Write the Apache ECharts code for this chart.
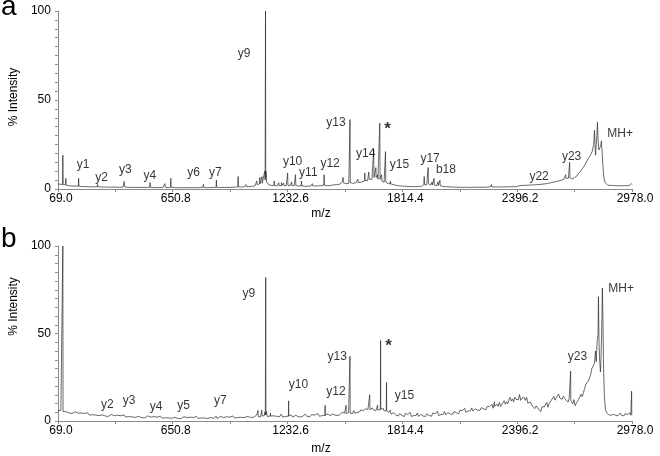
<!DOCTYPE html>
<html>
<head>
<meta charset="utf-8">
<script src="https://cdn.jsdelivr.net/npm/echarts@6/dist/echarts.min.js"></script>
<style>
  html, body { margin: 0; padding: 0; background: #fff; }
  #main { width: 660px; height: 456px; }
</style>
</head>
<body>
<div id="main"></div>
<script>
// tick labels and tick marks of the m/z axis
var xTicks = [69.0, 650.8, 1232.6, 1814.4, 2396.2, 2978.0];
var xTickMarks = [69.0, 359.9, 650.8, 941.7, 1232.6, 1523.5, 1814.4, 2105.3, 2396.2, 2687.1, 2978.0];

// panel a spectrum [m/z, % intensity]
var spectrumA = [
  [69, 2.8], [75, 2.3], [81, 2.7], [87, 2.2], [92.5, 2.5], [94, 19], [95.5, 2.4], [100, 2.6], [105, 2.1],
  [107.5, 2.4], [109, 6], [110.5, 2.2], [116, 2.3], [124, 1.8], [132, 2.2], [140, 1.7], [148, 2.1],
  [156, 1.6], [164, 2.0], [172.5, 1.6], [174, 6], [175.5, 1.6], [182, 1.9], [190, 1.4], [198, 1.8],
  [206, 1.3], [214, 1.8], [222, 1.3], [230, 1.7], [238, 1.2], [246, 1.7], [254, 1.2], [262, 1.6],
  [268.5, 1.3], [270, 2.5], [271.5, 1.3], [278, 1.6], [286, 1.1], [294, 1.6], [302, 1.1], [310, 1.7],
  [318, 1.1], [326, 1.5], [334, 1.0], [342, 1.6], [350, 1.1], [358, 1.5], [366, 1.0], [374, 1.4],
  [382, 1.0], [390, 1.5], [398, 1.0], [403.5, 1.3], [405, 4.2], [406.5, 1.2], [412, 1.5], [420, 1.0],
  [428, 1.4], [436, 0.9], [444, 1.4], [452, 0.9], [460, 1.5], [468, 0.9], [476, 1.3], [484, 0.9],
  [492, 1.4], [500, 0.9], [508, 1.3], [516, 0.8], [524, 1.3], [534.5, 1.0], [536, 3.6], [537.5, 1.0],
  [544, 1.3], [552, 0.8], [560, 1.3], [568, 0.8], [576, 1.2], [584, 0.8], [592, 1.3], [600, 0.8],
  [609.5, 1.0], [611, 3], [612.5, 1.0], [620, 1.2], [628, 0.8], [639.5, 1.0], [641, 6], [642.5, 1.0],
  [650, 1.2], [658, 0.8], [666, 1.2], [674, 0.7], [682, 1.2], [690, 0.8], [698, 1.1], [706, 0.7],
  [714, 1.2], [722, 0.8], [730, 1.1], [738, 0.7], [746, 1.2], [754, 0.8], [762, 1.1], [770, 0.7],
  [778, 1.2], [786, 0.8], [794, 1.1], [804.5, 1.0], [806, 2.6], [807.5, 1.0], [814, 1.1], [822, 0.7],
  [830, 1.2], [838, 0.8], [846, 1.1], [854, 0.8], [862, 1.2], [870.5, 1.0], [872, 5], [873.5, 1.0],
  [880, 1.2], [888, 0.8], [896, 1.3], [904, 0.9], [912, 1.2], [920, 0.9], [928, 1.4], [936, 0.9],
  [944, 1.3], [952, 1.0], [960, 1.4], [968, 1.0], [975, 1.4], [980.5, 1.2], [982, 7], [983.5, 1.2],
  [990, 1.5], [998, 1.1], [1006, 1.6], [1014, 1.2], [1020.5, 1.4], [1022, 2.5], [1023.5, 1.3],
  [1030, 1.7], [1038, 1.3], [1046, 1.9], [1054, 1.5], [1062, 2.2], [1068, 1.8], [1075.5, 2.2],
  [1077, 4.5], [1078.5, 2.3], [1084, 2.8], [1090.5, 3], [1092, 6.5], [1093.5, 3], [1098, 3.8],
  [1101.5, 3.5], [1103, 7], [1104.5, 3.2], [1110, 4], [1114, 3.5], [1117, 10], [1119, 5], [1120, 4],
  [1121, 100], [1122, 6], [1123, 10], [1126, 4], [1132, 3.2], [1138, 2.4], [1145, 2.8], [1152, 2.0],
  [1158, 2.4], [1163.5, 2.0], [1165, 4.5], [1166.5, 2.0], [1172, 2.4], [1180, 1.7], [1186.5, 2.0],
  [1188, 3.5], [1189.5, 1.9], [1196, 2.3], [1201.5, 2.0], [1203, 3.6], [1204.5, 2.0], [1211.5, 2.0],
  [1213, 3.2], [1214.5, 2.0], [1220, 2.4], [1226, 1.8], [1231.5, 2.2], [1233, 9], [1234.5, 2.2],
  [1240, 2.4], [1246, 1.8], [1251.5, 2.0], [1253, 4], [1254.5, 2.0], [1260, 2.3], [1266, 1.8],
  [1271.5, 2.2], [1273, 8], [1274.5, 2.0], [1280, 2.2], [1288, 1.6], [1294, 2.0], [1301.5, 1.8],
  [1303, 4.5], [1304.5, 1.8], [1312, 2.1], [1320, 1.5], [1328, 2.1], [1336, 1.6], [1344, 2.2],
  [1350, 1.7], [1356.5, 1.8], [1358, 3], [1359.5, 1.8], [1366, 2.2], [1374, 1.6], [1382, 2.3],
  [1390, 1.8], [1398, 2.4], [1406, 1.9], [1412, 2.5], [1416.5, 2.2], [1418, 8], [1419.5, 2.2],
  [1426, 2.4], [1434, 1.8], [1442, 2.5], [1450, 2.0], [1458, 2.8], [1466, 2.3], [1474, 3.0],
  [1482, 2.5], [1490, 3.2], [1498, 2.7], [1505, 3.2], [1510, 4], [1512.5, 3.5], [1514, 6.5],
  [1515.5, 3.5], [1522, 3.8], [1530, 3.0], [1538, 3.8], [1543, 3.2], [1547.5, 3.4], [1549, 39],
  [1550.5, 3.6], [1556, 4], [1562, 3.2], [1570, 4.2], [1578, 3.4], [1587.5, 3.8], [1589, 5.5],
  [1590.5, 3.6], [1598, 4.4], [1606, 3.8], [1614, 4.8], [1622.5, 4.5], [1624, 9], [1625.5, 4.8],
  [1632, 5.5], [1638, 4.6], [1642.5, 5], [1644, 9.5], [1645.5, 5.5], [1652, 6.2], [1660, 5.4],
  [1667.5, 6], [1669, 22], [1670.5, 6.5], [1675, 6.2], [1678.5, 7], [1680, 12], [1681.5, 6.5],
  [1685, 5.8], [1687.5, 6], [1689, 8], [1690.5, 5.5], [1695, 5.8], [1698.5, 5.5], [1700, 37],
  [1701.5, 5.5], [1705, 5], [1707.5, 5.2], [1709, 8], [1710.5, 4.5], [1716, 4.6], [1722, 3.8],
  [1727.5, 4], [1729, 21], [1730.5, 4], [1736, 3.8], [1742, 3.0], [1748, 3.6], [1752.5, 3.0],
  [1754, 4.5], [1755.5, 2.8], [1762, 3.0], [1766.5, 2.6], [1768, 3.3], [1769.5, 2.5], [1776, 2.7],
  [1784, 2.0], [1792, 2.4], [1800, 1.8], [1808, 2.2], [1816, 1.6], [1824, 2.1], [1832, 1.5],
  [1840, 2.0], [1848, 1.4], [1856, 1.9], [1864, 1.4], [1872, 1.8], [1880, 1.3], [1888, 1.9],
  [1896, 1.4], [1904, 1.8], [1912, 1.5], [1918, 2.0], [1923.5, 2.5], [1925, 7], [1926.5, 2.5],
  [1932, 2.8], [1938, 2.3], [1943.5, 3], [1945, 12], [1946.5, 3], [1952, 2.6], [1958, 2.2],
  [1963.5, 2.5], [1965, 4], [1966.5, 2.3], [1970, 2.5], [1973.5, 2.4], [1975, 6], [1976.5, 2.2],
  [1982, 2.4], [1988, 1.8], [1993.5, 2.0], [1995, 4], [1996.5, 2.0], [2000, 2.2], [2003.5, 1.9],
  [2005, 5], [2006.5, 1.8], [2014, 1.9], [2022, 1.4], [2030, 1.8], [2038, 1.3], [2046, 1.7],
  [2054, 1.2], [2062, 1.6], [2070, 1.1], [2078, 1.5], [2086, 1.0], [2094, 1.5], [2102, 1.0],
  [2110, 1.4], [2118, 0.9], [2126, 1.4], [2134, 1.0], [2142, 1.5], [2150, 0.9], [2158, 1.4],
  [2166, 0.9], [2174, 1.5], [2182, 1.0], [2190, 1.4], [2198, 1.0], [2206, 1.5], [2214, 1.0],
  [2222, 1.6], [2230, 1.0], [2238, 1.5], [2246, 1.1], [2254, 1.6], [2260, 1.2], [2264.5, 1.3],
  [2266, 2.5], [2267.5, 1.3], [2274, 1.6], [2282, 1.1], [2290, 1.7], [2298, 1.2], [2306, 1.6],
  [2314, 1.1], [2322, 1.8], [2330, 1.2], [2338, 1.7], [2346, 1.2], [2354, 1.8], [2362, 1.3],
  [2370, 1.9], [2378, 1.3], [2386, 1.8], [2394, 1.4], [2399.5, 1.5], [2401, 2.5], [2402.5, 1.5],
  [2410, 1.9], [2418, 1.4], [2426, 2.0], [2434, 1.5], [2442, 2.1], [2450, 1.6], [2458, 2.2],
  [2466, 1.7], [2474, 2.3], [2482, 1.8], [2490, 2.4], [2498, 1.9], [2506, 2.5], [2514, 2.0],
  [2522, 2.7], [2530, 2.2], [2538, 2.9], [2546, 2.5], [2554, 3.2], [2562, 2.8], [2570, 3.6],
  [2578, 3.2], [2586, 4.0], [2594, 3.6], [2602, 4.4], [2610, 4.0], [2618, 4.9], [2626, 4.5],
  [2632, 5.4], [2637, 5], [2640.5, 6], [2642, 8], [2643.5, 6], [2648, 5.5], [2652, 6.5], [2656, 6],
  [2660.5, 6.5], [2662, 15], [2663.5, 6.5], [2668, 6.2], [2674, 5.6], [2680, 6.6], [2686, 6.4],
  [2692, 7.4], [2698, 7.2], [2704, 8.4], [2710, 8.6], [2716, 9.8], [2722, 10.4], [2728, 11.6],
  [2734, 12.6], [2740, 13.6], [2746, 15], [2752, 16.2], [2758, 17.2], [2764, 18.4], [2770, 19.6],
  [2776, 21], [2780, 22], [2784, 25], [2788, 33], [2791, 24], [2793, 19], [2797, 25], [2800, 30],
  [2803, 37.5], [2806, 28], [2810, 22], [2815, 21], [2819, 24], [2823, 27], [2827, 20], [2830, 14],
  [2834, 8], [2838, 5], [2843, 3.5], [2850, 2.4], [2856, 2.0], [2862, 1.7], [2868, 2.1], [2874, 1.6],
  [2880, 2.0], [2886, 1.5], [2892, 1.9], [2898, 1.5], [2904, 1.8], [2910, 1.4], [2916, 1.9],
  [2922, 1.5], [2928, 1.8], [2934, 1.4], [2940, 1.9], [2946, 1.5], [2952, 1.8], [2958, 1.5],
  [2964, 2.0], [2968, 2.4], [2972, 2.2], [2975, 3], [2978, 2.6]
];

// panel b spectrum [m/z, % intensity]
var spectrumB = [
  [69, 5.9], [76, 5.4], [84, 6.1], [90, 5.0], [93, 5.4], [94, 100], [95, 5.4], [100, 5.2], [108, 5.4],
  [116, 5.7], [124, 4.7], [132, 5.0], [140, 4.3], [148, 5.0], [156, 5.3], [164, 4.3], [172, 4.5],
  [180, 3.7], [188, 4.6], [196, 4.1], [204, 4.3], [212, 3.7], [220, 4.7], [228, 3.4], [236, 3.8],
  [244, 3.6], [252, 4.0], [260, 3.4], [268, 4.1], [276, 3.0], [284, 3.3], [292, 3.5], [300, 3.9],
  [308, 2.9], [316, 3.3], [324, 2.6], [332, 3.4], [340, 3.7], [348, 2.8], [356, 3.0], [364, 2.3],
  [372, 3.3], [380, 2.7], [388, 3.0], [396, 2.5], [404, 3.5], [412, 2.3], [420, 2.7], [428, 2.5],
  [436, 2.9], [444, 2.4], [452, 3.1], [460, 2.0], [468, 2.3], [476, 2.6], [484, 2.9], [492, 2.0],
  [500, 2.4], [508, 1.7], [516, 2.5], [524, 2.9], [532, 2.0], [540, 2.2], [548, 1.5], [556, 2.5],
  [564, 2.0], [572, 2.2], [580, 1.7], [588, 2.8], [596, 1.6], [604, 2.1], [612, 1.8], [620, 2.3],
  [628, 1.8], [636, 2.5], [644, 1.5], [652, 1.8], [660, 2.1], [668, 2.4], [676, 1.5], [684, 1.9],
  [692, 1.3], [700, 2.1], [708, 2.5], [716, 1.6], [724, 1.9], [732, 1.2], [740, 2.2], [748, 1.7],
  [756, 2.0], [764, 1.5], [772, 2.6], [780, 1.4], [788, 1.9], [796, 1.7], [804, 2.2], [812, 1.7],
  [820, 2.4], [828, 1.4], [836, 1.7], [844, 2.0], [852, 2.4], [860, 1.5], [868, 2.0], [870, 2.8],
  [876, 1.4], [884, 2.2], [892, 2.6], [900, 1.7], [908, 2.0], [916, 1.4], [924, 2.4], [932, 1.9],
  [940, 2.2], [948, 1.7], [956, 2.9], [964, 1.7], [972, 2.2], [980, 2.0], [988, 2.6], [996, 2.1],
  [1004, 2.8], [1012, 1.9], [1020, 2.2], [1028, 2.6], [1036, 3.0], [1044, 2.1], [1052, 2.6],
  [1060, 2.1], [1068, 2.9], [1076, 3.4], [1082, 2.6], [1083, 6], [1084, 2.6], [1090, 3.0],
  [1096, 2.3], [1101, 3.0], [1102, 6.2], [1103, 3.0], [1108, 3.8], [1114, 2.9], [1118, 5],
  [1120, 3.5], [1121, 3.6], [1122, 82], [1123, 3.6], [1125, 5.5], [1130, 2.6], [1138, 3.6],
  [1145, 2.8], [1146, 4.5], [1147, 2.8], [1152, 2.3], [1160, 3.0], [1168, 3.6], [1176, 2.7],
  [1184, 3.1], [1192, 2.4], [1200, 3.9], [1208, 2.3], [1216, 2.9], [1224, 2.6], [1232, 3.3],
  [1237, 2.8], [1238, 11.5], [1239, 2.8], [1244, 2.6], [1250, 3.6], [1258, 2.3], [1266, 2.8],
  [1274, 3.2], [1282, 3.6], [1290, 2.4], [1298, 3.0], [1306, 2.4], [1314, 3.4], [1322, 3.9],
  [1330, 2.7], [1338, 3.2], [1346, 2.4], [1354, 3.6], [1362, 3.0], [1370, 3.4], [1378, 2.8],
  [1386, 4.3], [1394, 2.7], [1402, 3.4], [1410, 3.1], [1422, 3.2], [1423, 9], [1424, 3.2],
  [1430, 3.2], [1438, 4.2], [1446, 3.0], [1454, 3.4], [1462, 3.9], [1470, 4.3], [1478, 3.2],
  [1486, 3.9], [1494, 3.3], [1502, 4.4], [1510, 5.0], [1516, 3.9], [1522, 4.5], [1528, 4.2],
  [1529, 9], [1530, 4.2], [1536, 3.7], [1542, 4.9], [1548, 4.3], [1549, 37], [1550, 4.4],
  [1556, 4.8], [1562, 4.2], [1568, 5.9], [1574, 4.4], [1580, 5.1], [1586, 4.9], [1592, 5.8],
  [1598, 5.2], [1604, 6.4], [1610, 5.3], [1616, 5.9], [1622, 6.5], [1628, 7.0], [1634, 5.9],
  [1640, 6.6], [1648, 6.3], [1649, 15], [1650, 6.4], [1656, 7.0], [1662, 7.5], [1668, 6.3],
  [1674, 6.8], [1680, 5.9], [1688, 6.2], [1689, 9], [1690, 6.3], [1696, 7.1], [1703, 6.5],
  [1704, 46], [1705, 6.6], [1710, 6.1], [1716, 7.4], [1722, 5.7], [1728, 6.1], [1733, 6.0],
  [1734, 22], [1735, 5.8], [1740, 6.3], [1746, 5.0], [1752, 6.2], [1758, 3.9], [1764, 4.4],
  [1770, 4.7], [1776, 5.1], [1782, 3.3], [1788, 4.0], [1794, 2.9], [1800, 4.2], [1806, 4.9],
  [1812, 3.2], [1818, 3.8], [1824, 2.5], [1830, 4.3], [1836, 3.3], [1842, 3.8], [1848, 2.9],
  [1854, 5.0], [1860, 2.6], [1866, 3.5], [1872, 3.1], [1878, 4.1], [1884, 3.1], [1890, 4.6],
  [1896, 2.6], [1902, 3.3], [1908, 3.8], [1914, 4.5], [1920, 2.8], [1926, 3.6], [1932, 2.6],
  [1938, 4.1], [1944, 4.9], [1950, 3.2], [1956, 3.9], [1962, 2.7], [1968, 4.5], [1974, 3.6],
  [1980, 4.2], [1986, 3.3], [1992, 5.5], [1998, 3.1], [2004, 4.1], [2010, 3.7], [2016, 4.8],
  [2022, 3.8], [2028, 5.4], [2034, 3.5], [2040, 4.2], [2046, 4.8], [2052, 5.5], [2058, 3.9],
  [2064, 4.8], [2070, 3.9], [2076, 5.4], [2082, 6.2], [2088, 4.6], [2094, 5.4], [2100, 4.2],
  [2106, 6.1], [2112, 5.3], [2118, 5.9], [2124, 5.1], [2130, 7.3], [2136, 5.0], [2142, 6.0],
  [2148, 5.7], [2154, 6.8], [2160, 5.9], [2166, 7.5], [2172, 5.6], [2178, 6.4], [2184, 7.0],
  [2190, 7.7], [2196, 6.1], [2202, 7.0], [2208, 6.1], [2214, 7.6], [2220, 8.5], [2226, 6.9],
  [2232, 7.7], [2238, 6.5], [2244, 8.4], [2250, 7.6], [2256, 8.2], [2262, 7.4], [2268, 9.6],
  [2274, 7.3], [2280, 8.3], [2281, 11], [2282, 8.3], [2288, 8.1], [2294, 9.6], [2300, 8.4],
  [2306, 10.7], [2312, 8.2], [2318, 9.4], [2324, 10.5], [2330, 11.6], [2336, 9.6], [2342, 11.0],
  [2348, 9.8], [2354, 12.1], [2360, 13.5], [2366, 11.4], [2372, 12.6], [2378, 10.9], [2384, 13.6],
  [2390, 12.4], [2396, 13.3], [2402, 12.1], [2408, 15.1], [2414, 11.8], [2420, 13.0], [2426, 12.3],
  [2432, 13.5], [2438, 11.8], [2444, 13.5], [2450, 10.2], [2456, 10.6], [2462, 10.9], [2468, 11.2],
  [2474, 8.4], [2480, 9.0], [2486, 7.1], [2492, 8.7], [2498, 9.4], [2504, 6.7], [2510, 7.4],
  [2516, 5.4], [2522, 8.1], [2528, 7.0], [2534, 8.1], [2540, 7.2], [2546, 10.6], [2552, 7.9],
  [2558, 9.8], [2564, 9.9], [2570, 12.0], [2576, 11.3], [2582, 14.1], [2588, 11.9], [2594, 13.3],
  [2600, 14.4], [2606, 15.4], [2612, 13.1], [2618, 14.1], [2624, 12.4], [2630, 14.1], [2636, 14.9],
  [2642, 12.2], [2648, 12.9], [2654, 10.7], [2660, 13.1], [2666, 12.0], [2667, 28.5], [2668, 11.8],
  [2672, 11.6], [2678, 9.8], [2684, 12.2], [2690, 8.7], [2696, 10.2], [2702, 10.2], [2708, 12.4],
  [2714, 12.0], [2720, 15.3], [2726, 13.9], [2732, 16.3], [2738, 18.6], [2744, 20.9], [2750, 20.1],
  [2756, 22.7], [2762, 22.7], [2768, 26.2], [2774, 29.8], [2780, 29.4], [2788, 33], [2793, 40],
  [2797, 34], [2801, 45], [2806, 50], [2808, 71], [2811, 45], [2814, 35], [2818, 28], [2821, 36],
  [2825, 55], [2828, 76], [2831, 55], [2834, 30], [2838, 14], [2843, 7], [2848, 5], [2853, 4.0],
  [2859, 3.6], [2865, 4.3], [2871, 3.2], [2877, 3.5], [2883, 3.9], [2889, 4.4], [2895, 3.2],
  [2901, 3.6], [2907, 3.0], [2913, 3.9], [2919, 4.5], [2925, 3.3], [2931, 3.8], [2937, 2.9],
  [2943, 4.1], [2949, 3.5], [2955, 3.8], [2961, 3.2], [2967, 4.6], [2972, 3.3], [2975, 3.5],
  [2976, 17], [2977, 3.5], [2978, 3.6]
];

// peak annotations [text, m/z, % intensity]
var labelsA = [
  ['y1', 196, 13.4], ['y2', 290, 6.1], ['y3', 410, 10.6], ['y4', 535, 7.3], ['y6', 756, 8.9],
  ['y7', 867, 8.9], ['y9', 1012, 76], ['y10', 1258, 15.6], ['y11', 1338, 8.9], ['y12', 1448, 14],
  ['y13', 1478, 37.4], ['y14', 1629, 20], ['*', 1739, 33.8], ['y15', 1800, 13.4],
  ['y17', 1955, 17.3], ['b18', 2035, 10.6], ['y22', 2507, 6.7], ['y23', 2672, 17.9],
  ['MH+', 2918, 31.3]
];
var labelsB = [
  ['y2', 320, 9.1], ['y3', 430, 11.4], ['y4', 566, 8], ['y5', 706, 8.6], ['y7', 892, 11.4],
  ['y9', 1037, 73], ['y10', 1288, 20.6], ['y12', 1478, 16.6], ['y13', 1484, 36.6],
  ['*', 1744, 42.6], ['y15', 1825, 14.3], ['y23', 2702, 36.6], ['MH+', 2923, 75.4]
];

var FONT = 'Liberation Sans, Arial, sans-serif';
var AXIS_COLOR = '#8a8a8a';

function makeX(gi, gap) {
  return {
    type: 'value', gridIndex: gi, min: 69, max: 2978,
    name: 'm/z', nameLocation: 'middle', nameGap: gap,
    nameTextStyle: { fontSize: 12, color: '#000', padding: [0, 48, 0, 0] },
    axisLine: { lineStyle: { color: AXIS_COLOR, width: 1 } },
    axisTick: { show: true, customValues: xTickMarks, length: 3, lineStyle: { color: AXIS_COLOR } },
    axisLabel: {
      customValues: xTicks, fontSize: 12, color: '#000', margin: 4,
      padding: [0, 0, 0, 6],
      formatter: function (v) { return Number(v).toFixed(1); }
    },
    splitLine: { show: false }
  };
}

function makeY(gi, namePad) {
  return {
    type: 'value', gridIndex: gi, min: 0, max: 100, interval: 50,
    name: '% Intensity', nameLocation: 'middle', nameGap: 32,
    nameTextStyle: { fontSize: 12, color: '#000', padding: namePad },
    axisLine: { show: true, lineStyle: { color: AXIS_COLOR, width: 1 } },
    axisTick: { show: true, length: 3, lineStyle: { color: AXIS_COLOR } },
    minorTick: { show: true, splitNumber: 10, length: 3, lineStyle: { color: AXIS_COLOR } },
    axisLabel: { fontSize: 12, color: '#000', margin: 7 },
    splitLine: { show: false }
  };
}

function spectrumSeries(gi, data) {
  return {
    type: 'line', xAxisIndex: gi, yAxisIndex: gi, data: data,
    symbol: 'none', silent: true,
    lineStyle: { width: 0.7, color: '#2a2a2a' }
  };
}

function labelSeries(gi, labels) {
  return {
    type: 'scatter', xAxisIndex: gi, yAxisIndex: gi, symbolSize: 0, silent: true, z: 5,
    itemStyle: { color: 'transparent' },
    data: labels.map(function (l) {
      var item = { value: [l[1], l[2]], name: l[0] };
      if (l[0] === '*') item.label = { fontSize: 17, fontWeight: 'bold' };
      return item;
    }),
    label: {
      show: true, position: 'inside', color: '#000', fontSize: 12,
      formatter: function (p) { return p.name; }
    }
  };
}

var myChart = echarts.init(document.getElementById('main'));
var option = {
  animation: false,
  backgroundColor: '#fff',
  textStyle: { fontFamily: FONT },
  grid: [
    { left: 52, top: 11, width: 580, height: 178 },
    { left: 52, top: 246, width: 580, height: 175 }
  ],
  xAxis: [makeX(0, 19), makeX(1, 22)],
  yAxis: [makeY(0, [0, 0, 0, 6]), makeY(1, [0, 0, 0, 54])],
  series: [
    spectrumSeries(0, spectrumA),
    spectrumSeries(1, spectrumB),
    labelSeries(0, labelsA),
    labelSeries(1, labelsB)
  ],
  graphic: [
    { type: 'text', left: 1, top: -7, style: { text: 'a', fontSize: 28, fontFamily: FONT, fill: '#000' } },
    { type: 'text', left: 1, top: 225, style: { text: 'b', fontSize: 28, fontFamily: FONT, fill: '#000' } }
  ]
};
myChart.setOption(option);
</script>
</body>
</html>
